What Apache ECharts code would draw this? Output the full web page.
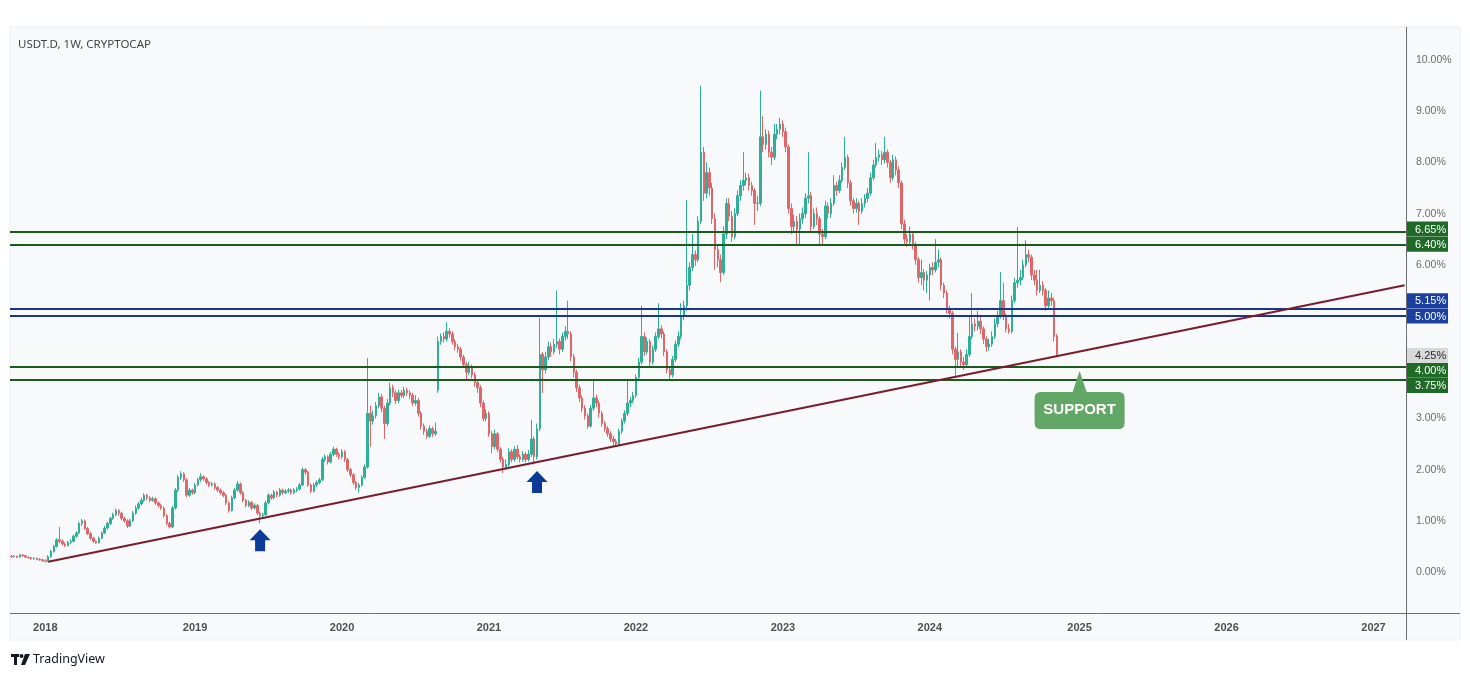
<!DOCTYPE html>
<html><head><meta charset="utf-8">
<script src="https://cdn.jsdelivr.net/npm/echarts@6.0.0/dist/echarts.min.js"></script>
<style>html,body{margin:0;padding:0;background:#fff}#c{width:1470px;height:677px}</style>
</head><body><div id="c"></div>
<script>
// ---- data ----
const title = 'USDT.D, 1W, CRYPTOCAP';
const firstWeek = '2017-10-09';   // first weekly bar
const weekCount = 494;            // bars shown on the time scale (incl. empty future)
// each candle: [open, close, low, high]  (values in %)
const candles2017 = [
 [0.31,0.30,0.28,0.33],[0.30,0.31,0.29,0.33],[0.31,0.29,0.27,0.32],[0.29,0.33,0.28,0.36],
 [0.33,0.32,0.30,0.35],[0.32,0.29,0.27,0.33],[0.29,0.28,0.26,0.30],[0.28,0.26,0.24,0.29],
 [0.26,0.27,0.24,0.29],[0.27,0.25,0.23,0.28],[0.25,0.24,0.22,0.27],[0.24,0.22,0.20,0.26]];
const candles2018 = [
 [0.22,0.21,0.19,0.25],[0.21,0.30,0.20,0.33],[0.30,0.40,0.28,0.43],[0.40,0.50,0.38,0.53],
 [0.50,0.63,0.48,0.66],[0.63,0.60,0.56,0.88],[0.60,0.55,0.52,0.64],[0.55,0.52,0.49,0.58],
 [0.52,0.58,0.50,0.61],[0.58,0.60,0.55,0.64],[0.60,0.70,0.58,0.73],[0.70,0.76,0.67,0.80],
 [0.76,0.95,0.74,0.98],[0.95,1.00,0.90,1.04],[1.00,0.85,0.82,1.03],[0.85,0.75,0.72,0.88],
 [0.75,0.66,0.63,0.78],[0.66,0.60,0.57,0.69],[0.60,0.57,0.55,0.62],[0.57,0.66,0.56,0.69],
 [0.66,0.76,0.64,0.79],[0.76,0.86,0.74,0.90],[0.86,0.95,0.83,0.98],[0.95,1.05,0.92,1.08],
 [1.05,1.12,1.02,1.16],[1.12,1.20,1.09,1.24],[1.20,1.15,1.10,1.23],[1.15,1.05,1.01,1.18],
 [1.05,1.00,0.96,1.08],[1.00,0.90,0.86,1.03],[0.90,1.00,0.88,1.04],[1.00,1.15,0.98,1.19],
 [1.15,1.25,1.12,1.30],[1.25,1.33,1.22,1.37],[1.33,1.40,1.30,1.45],[1.40,1.50,1.37,1.54],
 [1.50,1.45,1.40,1.53],[1.45,1.40,1.36,1.48],[1.40,1.43,1.37,1.47],[1.43,1.35,1.31,1.46],
 [1.35,1.30,1.26,1.38],[1.30,1.25,1.21,1.33],[1.25,1.10,1.06,1.28],[1.10,0.95,0.91,1.13],
 [0.95,0.88,0.85,0.98],[0.88,1.25,0.86,1.29],[1.25,1.60,1.22,1.64],[1.60,1.85,1.56,1.90],
 [1.85,1.92,1.80,1.97],[1.92,1.80,1.76,1.95],[1.80,1.50,1.46,1.83],[1.50,1.60,1.47,1.64]];
const candles2019 = [
 [1.60,1.55,1.51,1.63],[1.55,1.70,1.52,1.74],[1.70,1.80,1.67,1.84],[1.80,1.86,1.76,1.93],
 [1.86,1.82,1.78,1.89],[1.82,1.75,1.71,1.85],[1.75,1.70,1.66,1.78],[1.70,1.72,1.67,1.76],
 [1.72,1.65,1.61,1.75],[1.65,1.60,1.56,1.68],[1.60,1.55,1.51,1.63],[1.55,1.50,1.46,1.58],
 [1.50,1.35,1.31,1.53],[1.35,1.20,1.16,1.38],[1.20,1.45,1.18,1.49],[1.45,1.60,1.42,1.64],
 [1.60,1.72,1.57,1.78],[1.72,1.55,1.51,1.75],[1.55,1.40,1.36,1.58],[1.40,1.30,1.26,1.43],
 [1.30,1.36,1.27,1.40],[1.36,1.25,1.21,1.39],[1.25,1.30,1.22,1.34],[1.30,1.15,1.11,1.33],
 [1.15,1.10,0.95,1.18],[1.10,1.12,1.06,1.16],[1.12,1.35,1.10,1.39],[1.35,1.50,1.32,1.54],
 [1.50,1.45,1.41,1.53],[1.45,1.56,1.42,1.60],[1.56,1.50,1.46,1.59],[1.50,1.60,1.47,1.64],
 [1.60,1.55,1.51,1.63],[1.55,1.58,1.52,1.62],[1.58,1.60,1.54,1.64],[1.60,1.55,1.51,1.63],
 [1.55,1.60,1.52,1.64],[1.60,1.62,1.56,1.66],[1.62,1.70,1.59,1.74],[1.70,2.00,1.68,2.04],
 [2.00,1.95,1.90,2.03],[1.95,1.70,1.66,1.98],[1.70,1.58,1.54,1.73],[1.58,1.70,1.55,1.74],
 [1.70,1.75,1.66,1.79],[1.75,1.80,1.71,1.84],[1.80,2.20,1.78,2.25],[2.20,2.25,2.15,2.30],
 [2.25,2.15,2.10,2.28],[2.15,2.30,2.12,2.35],[2.30,2.40,2.26,2.45],[2.40,2.30,2.25,2.43],
 [2.30,2.25,2.20,2.34]];
const candles2020 = [
 [2.25,2.35,2.21,2.40],[2.35,2.20,2.15,2.38],[2.20,2.00,1.95,2.23],[2.00,1.90,1.85,2.03],
 [1.90,1.75,1.70,1.93],[1.75,1.65,1.60,1.78],[1.65,1.70,1.55,1.74],[1.70,1.85,1.67,1.89],
 [1.85,2.05,1.82,2.10],[2.05,3.10,2.02,4.18],[3.10,2.95,2.45,3.25],[2.95,3.05,2.88,3.15],
 [3.05,3.25,3.00,3.32],[3.25,3.42,3.20,3.50],[3.42,3.20,3.12,3.48],[3.20,2.90,2.60,3.25],
 [2.90,3.30,2.85,3.38],[3.30,3.60,3.25,3.70],[3.60,3.50,3.42,3.66],[3.50,3.35,3.28,3.55],
 [3.35,3.50,3.30,3.56],[3.50,3.45,3.40,3.56],[3.45,3.55,3.40,3.62],[3.55,3.50,3.44,3.60],
 [3.50,3.45,3.38,3.55],[3.45,3.30,3.24,3.50],[3.30,3.35,3.25,3.45],[3.35,3.10,3.04,3.40],
 [3.10,2.85,2.78,3.14],[2.85,2.75,2.68,2.90],[2.75,2.65,2.60,2.80],[2.65,2.80,2.62,2.86],
 [2.80,2.70,2.64,2.84],[2.70,2.75,2.66,2.92],[3.55,4.50,3.50,4.60],[4.50,4.60,4.44,4.66],
 [4.60,4.55,4.48,4.68],[4.55,4.70,4.50,4.88],[4.70,4.65,4.58,4.76],[4.65,4.50,4.44,4.70],
 [4.50,4.40,4.33,4.55],[4.40,4.35,4.28,4.46],[4.35,4.20,4.13,4.40],[4.20,4.05,3.98,4.24],
 [4.05,3.90,3.75,4.10],[3.90,4.00,3.85,4.10],[4.00,3.85,3.78,4.05],[3.85,3.70,3.62,3.90],
 [3.70,3.60,3.50,3.75],[3.60,3.30,3.22,3.65],[3.30,3.00,2.95,3.35],[3.00,3.10,2.94,3.18]];
const candles2021 = [
 [3.10,2.70,2.64,3.14],[2.70,2.45,2.32,2.75],[2.45,2.70,2.40,2.78],[2.70,2.40,2.34,2.74],
 [2.40,2.20,2.14,2.44],[2.20,2.05,1.93,2.25],[2.05,2.10,2.00,2.20],[2.10,2.35,2.06,2.42],
 [2.35,2.20,2.14,2.40],[2.20,2.40,2.16,2.46],[2.40,2.25,2.20,2.48],[2.25,2.20,2.14,2.30],
 [2.20,2.30,2.16,2.36],[2.30,2.20,2.14,2.34],[2.20,2.30,2.16,2.38],[2.30,2.60,2.25,2.97],
 [2.60,2.25,2.10,2.65],[2.25,2.80,2.20,2.90],[2.80,4.25,2.75,4.96],[4.25,3.95,3.50,4.30],
 [3.95,4.20,3.88,4.30],[4.20,4.40,4.14,4.50],[4.40,4.30,4.20,4.48],[4.30,4.45,4.25,4.55],
 [4.45,4.50,4.38,5.50],[4.50,4.35,4.25,4.56],[4.35,4.60,4.30,4.68],[4.60,4.70,4.52,4.80],
 [4.70,4.65,4.55,5.30],[4.65,4.20,4.12,4.70],[4.20,3.90,3.80,4.26],[3.90,3.60,3.52,3.95],
 [3.60,3.40,3.32,3.66],[3.40,3.20,3.12,3.45],[3.20,3.05,2.98,3.26],[3.05,2.85,2.80,3.10],
 [2.85,3.20,2.82,3.26],[3.20,3.40,3.15,3.75],[3.40,3.30,3.22,3.46],[3.30,3.10,3.02,3.35],
 [3.10,2.90,2.84,3.15],[2.90,2.80,2.74,2.95],[2.80,2.70,2.64,2.85],[2.70,2.60,2.54,2.75],
 [2.60,2.55,2.44,2.66],[2.55,2.50,2.46,2.60],[2.50,2.75,2.47,2.80],[2.75,2.95,2.70,3.00],
 [2.95,3.10,2.90,3.16],[3.10,3.30,3.05,3.75],[3.30,3.35,3.22,3.42],[3.35,3.45,3.30,3.52]];
const candles2022 = [
 [3.45,3.80,3.40,3.86],[3.80,4.10,3.75,4.18],[4.10,4.60,4.05,5.20],[4.60,4.30,4.22,4.68],
 [4.30,4.50,4.25,4.58],[4.50,4.10,4.00,4.55],[4.10,4.35,4.05,4.42],[4.35,4.60,4.30,4.68],
 [4.60,4.75,4.55,5.25],[4.75,4.65,4.56,4.82],[4.65,4.30,4.22,4.70],[4.30,3.95,3.88,4.35],
 [3.95,3.85,3.75,4.02],[3.85,4.15,3.80,4.22],[4.15,4.45,4.10,4.52],[4.45,4.60,4.40,4.70],
 [4.60,5.00,4.55,5.25],[5.00,5.20,4.92,5.30],[5.20,5.60,5.10,7.27],[5.60,5.95,5.50,6.05],
 [5.95,6.20,5.88,6.60],[6.20,6.10,5.98,6.28],[6.10,6.85,6.05,6.95],[6.85,8.20,6.80,9.50],
 [8.20,7.40,7.25,8.30],[7.40,7.80,7.30,8.00],[7.80,7.50,7.35,7.90],[7.50,6.90,6.80,7.60],
 [6.90,6.30,5.90,7.00],[6.30,6.10,5.95,6.40],[6.10,5.85,5.66,6.20],[5.85,6.60,5.80,6.75],
 [6.60,7.20,6.50,7.30],[7.20,6.95,6.85,7.30],[6.95,6.55,6.45,7.05],[6.55,7.00,6.50,7.10],
 [7.00,7.35,6.95,7.45],[7.35,7.55,7.25,7.65],[7.55,7.65,7.45,8.20],[7.65,7.70,7.55,7.80],
 [7.70,7.55,7.45,7.78],[7.55,7.45,7.35,7.62],[7.45,7.20,6.78,7.50],[7.20,7.20,7.05,7.35],
 [7.20,8.50,7.15,9.40],[8.50,8.35,8.20,8.90],[8.35,8.55,8.25,8.65],[8.55,8.20,8.10,8.62],
 [8.20,8.10,7.95,8.30],[8.10,8.55,8.05,8.75],[8.55,8.65,8.45,8.75],[8.65,8.75,8.55,8.87]];
const candles2023 = [
 [8.75,8.60,8.50,8.82],[8.60,8.30,8.20,8.68],[8.30,7.10,7.00,8.35],[7.10,6.75,6.60,7.20],
 [6.75,6.85,6.65,6.98],[6.85,6.70,6.40,6.95],[6.70,6.90,6.40,7.00],[6.90,7.00,6.80,7.12],
 [7.00,7.30,6.92,7.40],[7.30,7.35,7.20,8.20],[7.35,6.75,6.65,7.42],[6.75,7.00,6.70,7.10],
 [7.00,6.90,6.78,7.12],[6.90,6.60,6.40,6.95],[6.60,6.55,6.40,6.70],[6.55,7.15,6.50,7.25],
 [7.15,7.00,6.90,7.22],[7.00,7.20,6.92,7.30],[7.20,7.55,7.15,7.75],[7.55,7.45,7.35,7.62],
 [7.45,7.65,7.40,7.75],[7.65,7.90,7.60,8.00],[7.90,8.10,7.85,8.50],[8.10,7.60,7.50,8.15],
 [7.60,7.25,7.15,7.65],[7.25,7.10,7.00,7.30],[7.10,7.20,7.02,7.30],[7.20,7.05,6.78,7.25],
 [7.05,7.20,7.00,7.30],[7.20,7.30,7.12,7.38],[7.30,7.40,7.22,7.50],[7.40,7.70,7.35,7.80],
 [7.70,7.95,7.65,8.05],[7.95,8.10,7.90,8.38],[8.10,8.15,8.02,8.25],[8.15,8.05,7.95,8.22],
 [8.05,8.20,7.98,8.50],[8.20,8.00,7.90,8.25],[8.00,7.70,7.60,8.05],[7.70,8.05,7.65,8.15],
 [8.05,7.85,7.75,8.12],[7.85,7.60,7.50,7.92],[7.60,6.80,6.70,7.65],[6.80,6.50,6.40,6.88],
 [6.50,6.45,6.35,6.60],[6.45,6.60,6.38,6.75],[6.60,6.40,6.30,6.65],[6.40,6.10,6.00,6.45],
 [6.10,5.75,5.65,6.15],[5.75,5.85,5.60,6.10],[5.85,5.70,5.50,5.92],[5.70,5.80,5.45,5.88]];
const candles2024 = [
 [5.80,5.95,5.30,6.02],[5.95,5.90,5.80,6.05],[5.90,6.05,5.85,6.50],[6.05,6.10,5.95,6.30],
 [6.10,5.60,5.50,6.15],[5.60,5.45,5.35,5.65],[5.45,5.15,5.05,5.50],[5.15,5.05,4.95,5.20],
 [5.05,4.35,4.25,5.10],[4.35,4.15,3.80,4.40],[4.15,4.30,4.00,4.67],[4.30,4.10,4.00,4.35],
 [4.10,4.05,3.95,4.20],[4.05,4.25,4.00,4.35],[4.25,4.60,4.20,5.00],[4.60,4.85,4.55,5.45],
 [4.85,4.80,4.70,4.95],[4.80,4.90,4.72,5.10],[4.90,4.75,4.65,4.98],[4.75,4.55,4.45,4.80],
 [4.55,4.40,4.30,4.60],[4.40,4.45,4.32,4.55],[4.45,4.60,4.40,4.70],[4.60,4.85,4.55,4.95],
 [4.85,5.00,4.78,5.10],[5.00,5.30,4.95,5.86],[5.30,5.00,4.92,5.65],[5.00,4.75,4.68,5.05],
 [4.75,4.70,4.65,4.85],[4.70,5.30,4.66,5.40],[5.30,5.65,5.25,5.75],[5.65,5.70,5.55,6.74],
 [5.70,5.75,5.60,5.90],[5.75,6.00,5.70,6.10],[6.00,6.20,5.95,6.48],[6.20,6.15,6.05,6.30],
 [6.15,5.80,5.70,6.20],[5.80,5.70,5.60,5.90],[5.70,5.50,5.40,5.90],[5.50,5.60,5.45,5.90],
 [5.60,5.50,5.40,5.68],[5.50,5.20,5.10,5.55],[5.20,5.35,5.15,5.50],[5.35,5.30,5.20,5.45],
 [5.30,4.60,4.50,5.35],[4.60,4.25,4.20,4.65]];
const greenLevels = [6.65, 6.40, 4.00, 3.75];
const blueLevels = [5.15, 5.00];
const lastPrice = 4.25;
const trendStart = ['2018-01-08', 0.20];
const trendEnd = ['2027-03-22', 5.60];
const arrowPoints = [['2019-06-17', 0.62], ['2021-05-03', 1.76]];
const supportPoint = [['2025-01-06', 3.36]];
const yTicks = [0, 1, 2, 3, 6, 7, 8, 9, 10];

// ---- styling (not data) ----
const FONT = 'Liberation Sans, Arial, sans-serif';
const GREEN_LINE = '#1b5b20', GREEN_BOX = '#1f6a27';
const BLUE_LINE = '#1a3591', BLUE_BOX = '#1c3fa2';
// pixel nudges so the price-scale boxes do not overlap (as the price scale does)
const boxNudge = { '6.65': -2.5, '6.40': 0, '5.15': -7.5, '5.00': 0, '4.25': 1, '4.00': 3, '3.75': 5.5 };

// ---- build ----
const weeks = [];
const t0 = Date.parse(firstWeek + 'T00:00:00Z');
for (let k = 0; k < weekCount; k++) weeks.push(new Date(t0 + k * 7 * 864e5).toISOString().slice(0, 10));
const candles = [].concat(candles2017, candles2018, candles2019, candles2020, candles2021, candles2022, candles2023, candles2024);

const markData = [];
greenLevels.forEach(v => markData.push({ yAxis: v, lineStyle: { color: GREEN_LINE, width: 1.8, type: 'solid' } }));
blueLevels.forEach(v => markData.push({ yAxis: v, lineStyle: { color: BLUE_LINE, width: 1.8, type: 'solid' } }));
markData.push([{ coord: trendStart, lineStyle: { color: '#7c1b2b', width: 2, type: 'solid' } }, { coord: trendEnd }]);

const baseGraphic = [
  { id: 'bg', type: 'rect', z: -10, shape: { x: 10, y: 27, width: 1450, height: 613 }, style: { fill: '#f8f9fb', stroke: '#eceef2', lineWidth: 1 } },
  { id: 'vline', type: 'line', z: 5, shape: { x1: 1406.5, y1: 27, x2: 1406.5, y2: 640 }, style: { stroke: '#6f6f6f', lineWidth: 1 } },
  { id: 'hline', type: 'line', z: 5, shape: { x1: 10, y1: 613.5, x2: 1460, y2: 613.5 }, style: { stroke: '#6f6f6f', lineWidth: 1 } },
  { id: 'l1', type: 'rect', z: 5, shape: { x: 11, y: 654, width: 8, height: 3 }, style: { fill: '#131722' } },
  { id: 'l2', type: 'rect', z: 5, shape: { x: 14, y: 654, width: 3, height: 11 }, style: { fill: '#131722' } },
  { id: 'l3', type: 'circle', z: 5, shape: { cx: 21.5, cy: 656, r: 2 }, style: { fill: '#131722' } },
  { id: 'l4', type: 'polygon', z: 5, shape: { points: [[25, 654], [30, 654], [25, 665], [21, 665]] }, style: { fill: '#131722' } },
  { id: 'tv', type: 'text', z: 5, x: 33, y: 653, style: { text: 'TradingView', fill: '#131722', font: '12.5px "Noto Sans", sans-serif' } }
];

const chart = echarts.init(document.getElementById('c'), null, { renderer: 'canvas' });
chart.setOption({
  animation: false,
  backgroundColor: '#ffffff',
  title: { text: title, left: 13, top: 34, textStyle: { fontSize: 11.5, fontWeight: 'normal', color: '#444', fontFamily: 'Noto Sans, sans-serif' } },
  graphic: baseGraphic,
  grid: { left: 10, right: 64, top: 28, bottom: 64 },
  xAxis: {
    type: 'category', data: weeks, boundaryGap: true,
    axisLine: { show: false }, axisTick: { show: false }, splitLine: { show: false },
    axisLabel: {
      interval: (idx, val) => { const d = new Date(val + 'T00:00:00Z'); return d.getUTCMonth() === 0 && d.getUTCDate() <= 7; },
      formatter: v => v.slice(0, 4), color: '#505050', fontSize: 11, fontWeight: 'bold', margin: 9, fontFamily: FONT
    }
  },
  yAxis: {
    type: 'value', position: 'right', min: -0.8, max: 10.625, scale: true,
    axisLine: { show: false }, axisTick: { show: false }, splitLine: { show: false },
    axisLabel: { customValues: yTicks, formatter: v => v.toFixed(2) + '%', color: '#6c6c6c', fontSize: 10.5, margin: 10, fontFamily: FONT }
  },
  series: [
    {
      type: 'candlestick', data: candles, barWidth: 2,
      itemStyle: { color: '#2daf98', color0: '#e0666a', borderColor: '#2daf98', borderColor0: '#e0666a', borderWidth: 1 },
      markLine: { silent: true, symbol: ['none', 'none'], animation: false, label: { show: false }, data: markData }
    },
    {
      type: 'scatter', data: arrowPoints, z: 6, silent: true,
      symbol: 'path://M10.5,0 L21,11 L15.5,11 L15.5,22 L5.5,22 L5.5,11 L0,11 Z',
      symbolSize: [21, 22], itemStyle: { color: '#0b3a98', opacity: 1 }
    },
    {
      type: 'scatter', data: supportPoint, z: 6, silent: true,
      symbol: 'path://M45,0 L52,21 L84,21 Q90,21 90,27 L90,52 Q90,58 84,58 L6,58 Q0,58 0,52 L0,27 Q0,21 6,21 L38,21 Z',
      symbolSize: [90, 58], itemStyle: { color: '#62a766', opacity: 1 },
      label: { show: true, position: 'inside', offset: [0, 10], formatter: 'SUPPORT', color: '#ffffff', fontWeight: 'bold', fontSize: 15, fontFamily: FONT }
    }
  ]
});

// price-scale boxes, placed through the y axis scale
const boxes = [];
greenLevels.forEach(v => boxes.push({ v, bg: GREEN_BOX, fg: '#ffffff' }));
blueLevels.forEach(v => boxes.push({ v, bg: BLUE_BOX, fg: '#ffffff' }));
boxes.push({ v: lastPrice, bg: '#d9d9d9', fg: '#2b2b2b' });
const extra = [];
boxes.forEach((b, k) => {
  const y = chart.convertToPixel({ yAxisIndex: 0 }, b.v) + (boxNudge[b.v.toFixed(2)] || 0);
  extra.push({ id: 'bx' + k, type: 'rect', z: 20, shape: { x: 1407, y: y - 7.5, width: 41, height: 15 }, style: { fill: b.bg } });
  extra.push({ id: 'bt' + k, type: 'text', z: 21, x: 1415, y: y + 0.5, style: { text: b.v.toFixed(2) + '%', fill: b.fg, font: '11px "Liberation Sans", Arial, sans-serif', verticalAlign: 'middle' } });
});
chart.setOption({ graphic: baseGraphic.concat(extra) });
</script>
</body></html>
